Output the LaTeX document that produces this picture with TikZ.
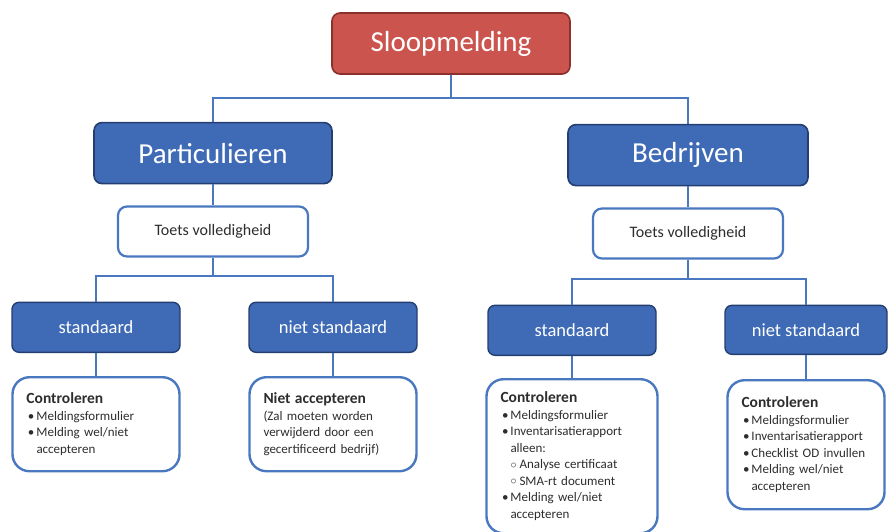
\documentclass[tikz,border=0pt]{standalone}
\usepackage{fontspec}
\setmainfont{Carlito}
\usetikzlibrary{positioning}
\definecolor{rood}{RGB}{203,84,78}
\definecolor{roodrand}{RGB}{140,48,44}
\definecolor{blauw}{RGB}{62,106,182}
\definecolor{blauwrand}{RGB}{36,62,112}
\definecolor{lijnblauw}{RGB}{74,120,192}
\definecolor{tekst}{RGB}{45,45,45}
\newcommand{\kopje}[1]{{\fontsize{15.5}{18}\selectfont\bfseries #1}\par}
\newcommand{\punt}[1]{\par\noindent\makebox[10pt][l]{\hspace{1.5pt}\textbullet}#1}
\newcommand{\verder}[1]{\par\noindent\hspace*{10pt}#1}
\newcommand{\subpunt}[1]{\par\noindent\hspace*{10pt}\makebox[9pt][l]{\raisebox{0.1ex}{$\circ$}}#1}
\tikzset{ kop/.style={ rectangle, rounded corners=8pt, fill=rood, draw=roodrand, line width=1.6pt, text=white, minimum width=238pt, minimum height=61pt, font=\fontsize{29}{34}\selectfont}, groep/.style={ kop, fill=blauw, draw=blauwrand}, toets/.style={ rectangle, rounded corners=9pt, fill=white, draw=lijnblauw, line width=2.2pt, text=tekst, minimum width=190pt, minimum height=50pt, font=\fontsize{16}{19}\selectfont}, soort/.style={ rectangle, rounded corners=7pt, fill=blauw, draw=blauwrand, line width=1.4pt, text=white, minimum width=168pt, minimum height=50pt, font=\fontsize{18.5}{22}\selectfont}, lijst/.style={ rectangle, rounded corners=17pt, fill=white, draw=lijnblauw, line width=2.4pt, text=tekst, align=left, inner xsep=14pt, inner ysep=6pt, font=\fontsize{13}{16.5}\selectfont}, lijn/.style={ draw=lijnblauw, line width=2pt}}

\begin{document}
\begin{tikzpicture}[x=1pt, y=-1pt]
    \useasboundingbox (0,0) rectangle (889,531);
    %nodes
    \node[kop] (sloop) at (451,43.5) {Sloopmelding};
    \node[groep, below=47pt of sloop, xshift=-238pt] (partic) {Particulieren};
    \node[groep, below=49pt of sloop, xshift=237pt, minimum width=240pt] (bedr) {Bedrijven};
    \node[toets, below=21pt of partic] (toetsL) {Toets volledigheid};
    \node[toets, below=21pt of bedr] (toetsR) {Toets volledigheid};
    \node[soort, below=44pt of toetsL, xshift=-117pt] (stdL) {standaard};
    \node[soort, below=44pt of toetsL, xshift=120pt] (nstdL) {niet standaard};
    \node[soort, below=45pt of toetsR, xshift=-116pt] (stdR) {standaard};
    \node[soort, below=45pt of toetsR, xshift=118pt, minimum width=162pt, minimum height=49pt] (nstdR) {niet standaard};
    % the lists under each kind of melding
    \node[lijst, below=23pt of stdL, text width=139pt, minimum height=94pt] (ctrlL) {%
      \kopje{Controleren}
      \punt{Meldingsformulier}
      \punt{Melding wel/niet}
      \verder{accepteren}};
    \node[lijst, below=23pt of nstdL, text width=139pt, minimum height=94pt] (nietacc) {%
      \kopje{Niet accepteren}
      (Zal moeten worden\\verwijderd door een\\gecertificeerd bedrijf)};
    \node[lijst, below=22pt of stdR, text width=143pt, minimum height=154pt] (ctrlR1) {%
      \kopje{Controleren}
      \punt{Meldingsformulier}
      \punt{Inventarisatierapport}
      \verder{alleen:}
      \subpunt{Analyse certificaat}
      \subpunt{SMA-rt document}
      \punt{Melding wel/niet}
      \verder{accepteren}};
    \node[lijst, below=24pt of nstdR, text width=129pt, minimum height=129pt] (ctrlR2) {%
      \kopje{Controleren}
      \punt{Meldingsformulier}
      \punt{Inventarisatierapport}
      \punt{Checklist OD invullen}
      \punt{Melding wel/niet}
      \verder{accepteren}};
    % connectors
    \coordinate (busA) at ([yshift=24pt]partic.north);
    \coordinate (busL) at ([yshift=-18pt]toetsL.south);
    \coordinate (busR) at ([yshift=-19pt]toetsR.south);
    \draw[lijn] (sloop.south) -- (sloop.south |- busA);
    \draw[lijn] (partic.north) -- (busA) -| (bedr.north);
    \draw[lijn] (partic.south) -- (toetsL.north);
    \draw[lijn] (bedr.south) -- (toetsR.north);
    \draw[lijn] (toetsL.south) -- (busL);
    \draw[lijn] (stdL.north) |- (busL) -| (nstdL.north);
    \draw[lijn] (toetsR.south) -- (busR);
    \draw[lijn] (stdR.north) |- (busR) -| (nstdR.north);
    \draw[lijn] (stdL.south) -- (ctrlL.north);
    \draw[lijn] (nstdL.south) -- (nietacc.north);
    \draw[lijn] (stdR.south) -- (ctrlR1.north);
    \draw[lijn] (nstdR.south) -- (ctrlR2.north);
\end{tikzpicture}
\end{document}
